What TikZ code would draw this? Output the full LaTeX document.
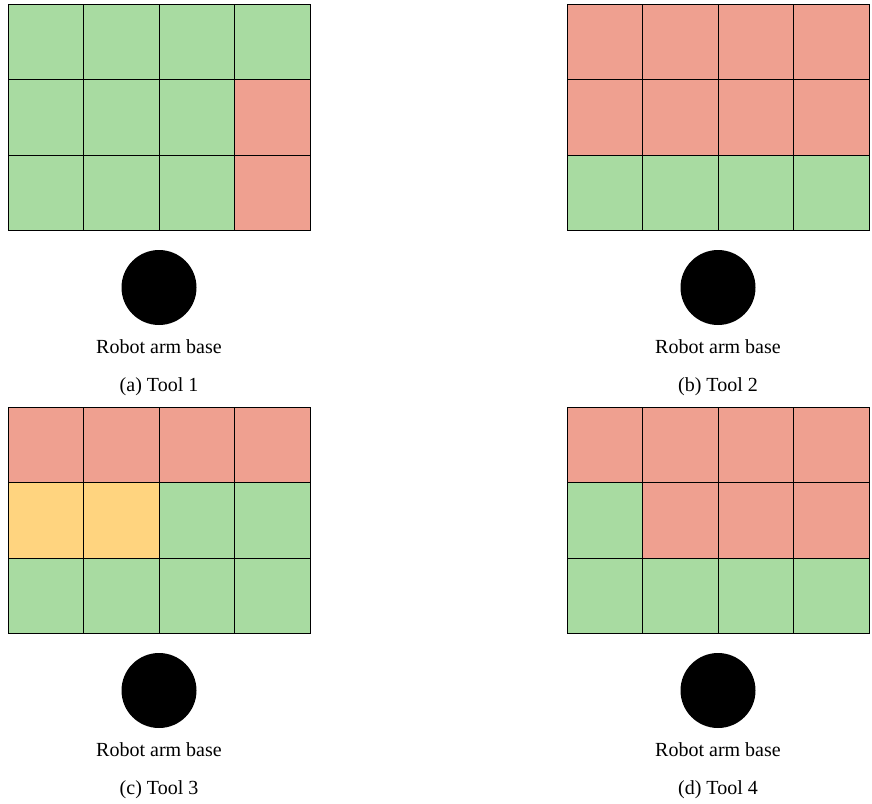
\documentclass[tikz,border=0pt]{standalone}
\usepackage{fontspec}
\setmainfont{Liberation Serif}
\usetikzlibrary{positioning}
\definecolor{cg}{HTML}{A8DBA1}
\definecolor{cr}{HTML}{EFA090}
\definecolor{cy}{HTML}{FFD47F}

\begin{document}
\begin{tikzpicture}[
    x=0.5pt, y=-0.5pt,
    cell/.style={draw=black, line width=0.5pt},
    armbase/.style={circle, fill=black, inner sep=0pt, minimum size=37.5pt},
    lbl/.style={font=\fontsize{10}{12}\selectfont, anchor=base, inner sep=0pt}]

\useasboundingbox (0,0) rectangle (872,803);

%% ── Reachability grids (4 x 3 cells, row by row) ─────────────────────────────
\foreach \ox/\oy/\cols in {
    8/4/{cg,cg,cg,cg,cg,cg,cg,cr,cg,cg,cg,cr},
    567/4/{cr,cr,cr,cr,cr,cr,cr,cr,cg,cg,cg,cg},
    8/407/{cr,cr,cr,cr,cy,cy,cg,cg,cg,cg,cg,cg},
    567/407/{cr,cr,cr,cr,cg,cr,cr,cr,cg,cg,cg,cg}}
  \foreach \c [count=\i from 0] in \cols {
    \pgfmathtruncatemacro{\col}{mod(\i,4)}
    \pgfmathtruncatemacro{\row}{\i/4}
    \filldraw[cell, fill=\c]
      (\ox+\col*75.5, \oy+\row*75.6) rectangle ++(75.5,75.6);
  }

%% ── Robot bases ──────────────────────────────────────────────────────────────
\node[armbase] (base1) at (159,287.5) {};
\node[armbase] (base2) at (718,287.5) {};
\node[armbase] (base3) at (159,690.5) {};
\node[armbase] (base4) at (718,690.5) {};

\node[lbl] (lab1) at (159,353) {Robot arm base};
\node[lbl] (lab2) at (718,353) {Robot arm base};
\node[lbl] (lab3) at (159,756) {Robot arm base};
\node[lbl] (lab4) at (718,756) {Robot arm base};

%% ── Sub-captions ─────────────────────────────────────────────────────────────
\node[lbl] (cap1) at (159,391) {(a) Tool 1};
\node[lbl] (cap2) at (718,391) {(b) Tool 2};
\node[lbl] (cap3) at (159,794) {(c) Tool 3};
\node[lbl] (cap4) at (718,794) {(d) Tool 4};

\end{tikzpicture}
\end{document}
